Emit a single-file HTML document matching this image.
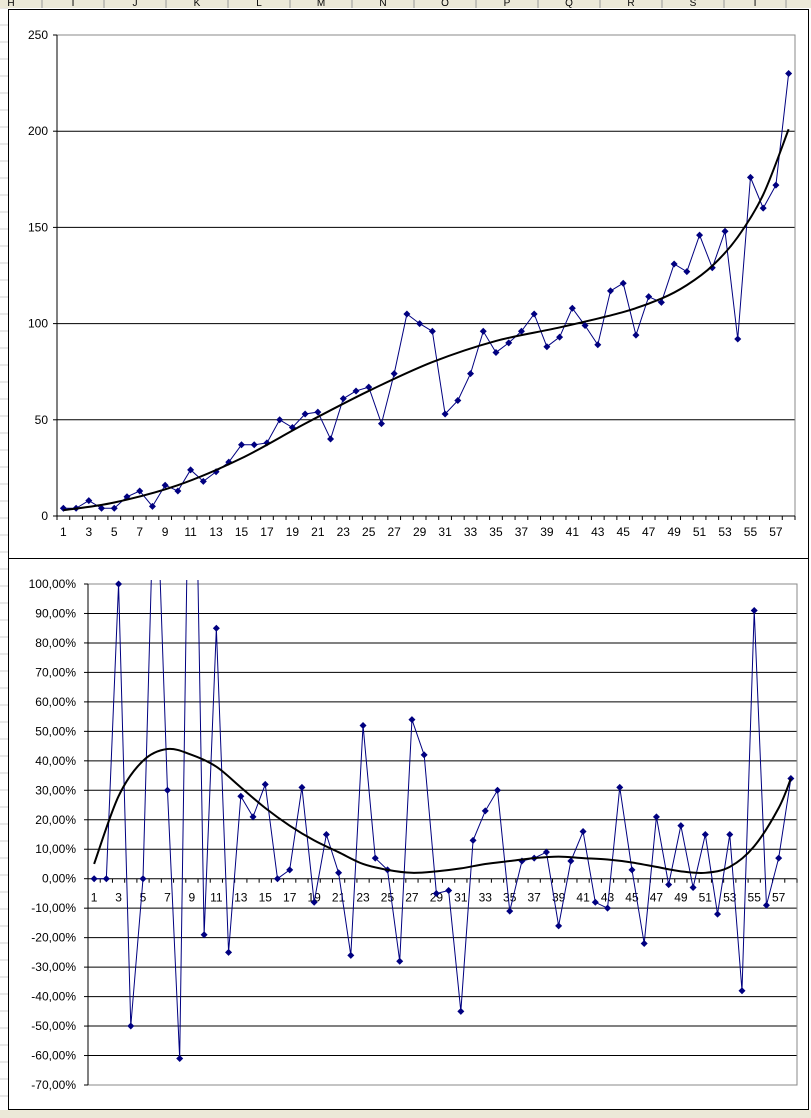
<!DOCTYPE html>
<html><head><meta charset="utf-8"><style>
body{margin:0;width:811px;height:1118px;overflow:hidden;background:#fff;font-family:"Liberation Sans",sans-serif}
svg{display:block}
</style></head><body>
<svg id="s" width="811" height="1118" xmlns="http://www.w3.org/2000/svg" font-family="Liberation Sans, sans-serif"></svg>
<script>
const S=document.getElementById('s');let h='';
h+='<rect x="0" y="0" width="811" height="1118" fill="#fff"/>';
for(let y=8;y<1118;y+=17)h+=`<line x1="0" y1="${y}" x2="8" y2="${y}" stroke="#d0d0d0"/>`;
h+='<rect x="0" y="0" width="811" height="8" fill="#ece9d8"/>';
const L=['H','I','J','K','L','M','N','O','P','Q','R','S','T'];
for(let k=0;k<13;k++){const x=-20+k*62;h+=`<line x1="${x+62}" y1="0" x2="${x+62}" y2="8" stroke="#999"/><text x="${x+31}" y="6" font-size="10" text-anchor="middle">${L[k]}</text>`;}
h+='<rect x="0" y="1110" width="811" height="8" fill="#ece9d8"/>';
h+='<rect x="8.5" y="9.5" width="800" height="549" fill="#fff" stroke="#000"/>';
h+='<rect x="8.5" y="558.5" width="800" height="551" fill="#fff" stroke="#000"/>';
const tx0=57,tx1=795,ty0=35,ty1=516,tw=(tx1-tx0)/58;
const TX=i=>tx0+tw*(i-0.5),TY=v=>ty1-(ty1-ty0)*v/250;
for(let v=50;v<=200;v+=50)h+=`<line x1="${tx0}" y1="${TY(v)}" x2="${tx1}" y2="${TY(v)}" stroke="#000"/>`;
h+=`<rect x="${tx0}" y="${ty0}" width="${tx1-tx0}" height="${ty1-ty0}" fill="none" stroke="#888"/>`;
h+=`<line x1="${tx0}" y1="${ty0}" x2="${tx0}" y2="${ty1}" stroke="#000"/><line x1="${tx0}" y1="${ty1}" x2="${tx1}" y2="${ty1}" stroke="#000"/>`;
for(let v=0;v<=250;v+=50){h+=`<line x1="${tx0-4}" y1="${TY(v)}" x2="${tx0}" y2="${TY(v)}" stroke="#000"/><text x="${tx0-9}" y="${TY(v)+4}" font-size="12" text-anchor="end">${v}</text>`;}
for(let i=0;i<=58;i++)h+=`<line x1="${tx0+tw*i}" y1="${ty1}" x2="${tx0+tw*i}" y2="${ty1+4}" stroke="#000"/>`;
for(let i=1;i<=57;i+=2)h+=`<text x="${TX(i)}" y="${ty1+20}" font-size="12" text-anchor="middle">${i}</text>`;
const A=[4,4,8,4,4,10,13,5,16,13,24,18,23,28,37,37,38,50,46,53,54,40,61,65,67,48,74,105,100,96,53,60,74,96,85,90,96,105,88,93,108,99,89,117,121,94,114,111,131,127,146,129,148,92,176,160,172,230];
h+=`<polyline fill="none" stroke="#000080" stroke-width="1" points="${A.map((v,i)=>TX(i+1)+','+TY(v)).join(' ')}"/>`;
const M=3.5;
A.forEach((v,i)=>{const x=TX(i+1),y=TY(v);h+=`<path d="M${x-M} ${y}L${x} ${y-M}L${x+M} ${y}L${x} ${y+M}Z" fill="#000080"/>`});
function smooth(pts){let d=`M${pts[0][0]} ${pts[0][1]}`;for(let i=0;i<pts.length-1;i++){const p0=pts[i-1]||pts[i],p1=pts[i],p2=pts[i+1],p3=pts[i+2]||p2;d+=`C${p1[0]+(p2[0]-p0[0])/6} ${p1[1]+(p2[1]-p0[1])/6} ${p2[0]-(p3[0]-p1[0])/6} ${p2[1]-(p3[1]-p1[1])/6} ${p2[0]} ${p2[1]}`;}return d;}
const T1=[[1,3],[5,7],[10,16],[15,30],[20,48],[25,65],[30,80],[35,91],[40,98],[45,106],[48,113],[50,120],[52,130],[54,145],[56,167],[58,201]];
h+=`<path d="${smooth(T1.map(p=>[TX(p[0]),TY(p[1])]))}" fill="none" stroke="#000" stroke-width="2"/>`;
const bx0=88,bx1=797,by0=584,by1=1085,bw=(bx1-bx0)/58;
const BX=i=>bx0+bw*(i-0.5),BY=v=>by0+(100-v)*(by1-by0)/170;
for(let v=90;v>=-60;v-=10)h+=`<line x1="${bx0}" y1="${BY(v)}" x2="${bx1}" y2="${BY(v)}" stroke="#000"/>`;
h+=`<rect x="${bx0}" y="${by0}" width="${bx1-bx0}" height="${by1-by0}" fill="none" stroke="#888"/>`;
h+=`<line x1="${bx0}" y1="${by0}" x2="${bx0}" y2="${by1}" stroke="#000"/>`;
for(let v=100;v>=-70;v-=10){h+=`<line x1="${bx0-4}" y1="${BY(v)}" x2="${bx0}" y2="${BY(v)}" stroke="#000"/><text x="${bx0-12}" y="${BY(v)+4}" font-size="12" text-anchor="end">${v.toFixed(2).replace('.',',')}%</text>`;}
for(let i=0;i<=58;i++)h+=`<line x1="${bx0+bw*i}" y1="${BY(0)}" x2="${bx0+bw*i}" y2="${BY(0)+4}" stroke="#000"/>`;
for(let i=1;i<=57;i+=2)h+=`<text x="${BX(i)}" y="${BY(0)+23}" font-size="12" text-anchor="middle">${i}</text>`;
const B=[0,0,100,-50,0,150,30,-61,220,-19,85,-25,28,21,32,0,3,31,-8,15,2,-26,52,7,3,-28,54,42,-5,-4,-45,13,23,30,-11,6,7,9,-16,6,16,-8,-10,31,3,-22,21,-2,18,-3,15,-12,15,-38,91,-9,7,34];
h+=`<defs><clipPath id="c"><rect x="${bx0}" y="${by0-4}" width="${bx1-bx0}" height="${by1-by0+4}"/></clipPath></defs><g clip-path="url(#c)">`;
h+=`<polyline fill="none" stroke="#000080" stroke-width="1" points="${B.map((v,i)=>BX(i+1)+','+BY(v)).join(' ')}"/>`;
B.forEach((v,i)=>{const x=BX(i+1),y=BY(v);h+=`<path d="M${x-M} ${y}L${x} ${y-M}L${x+M} ${y}L${x} ${y+M}Z" fill="#000080"/>`});
h+='</g>';
const T2=[[1,5],[3,28],[5,40],[7,44],[9,42],[11,38],[13,31],[15,24],[17,18],[19,13],[21,9],[23,5],[25,3],[27,2],[29,2.5],[31,3.5],[33,5],[35,6],[37,7],[39,7.5],[41,7],[43,6.5],[45,5.5],[47,4],[49,2.5],[51,2],[53,4],[55,11],[57,24],[58,34]];
h+=`<path d="${smooth(T2.map(p=>[BX(p[0]),BY(p[1])]))}" fill="none" stroke="#000" stroke-width="2"/>`;
S.innerHTML=h;
</script>
</body></html>
